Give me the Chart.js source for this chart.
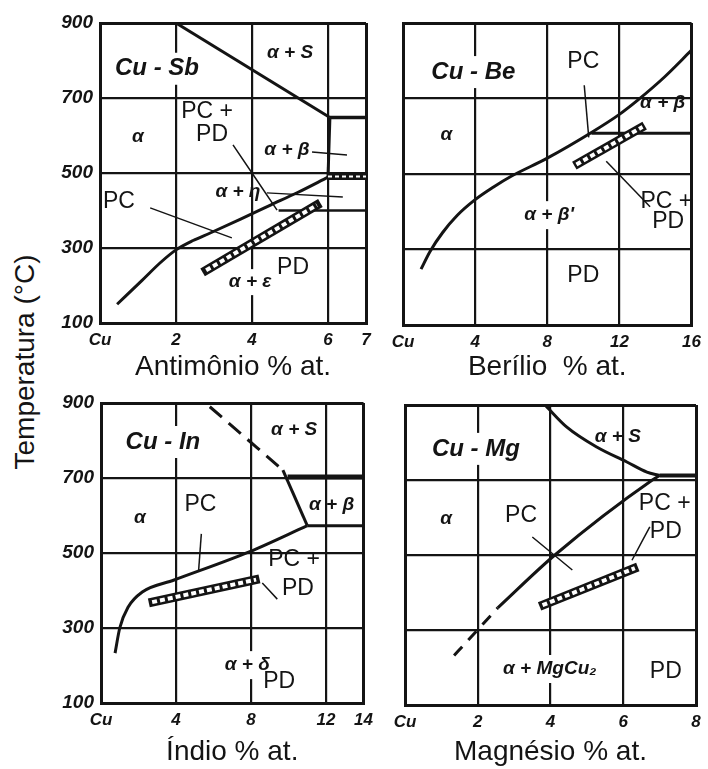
<!DOCTYPE html>
<html>
<head>
<meta charset="utf-8">
<script src="https://cdn.jsdelivr.net/npm/chart.js@4/dist/chart.umd.min.js"></script>
<style>
  html, body { margin: 0; padding: 0; background: #fff; }
  body { width: 708px; height: 769px; position: relative; overflow: hidden; }
  canvas { position: absolute; }
  #ytitle {
    position: absolute; left: 25px; top: 362px;
    transform: translate(-50%, -50%) rotate(-90deg);
    font: 28px "Liberation Sans", Arial, sans-serif; color: #141414; white-space: nowrap;
  }
</style>
</head>
<body>
<div id="ytitle">Temperatura (°C)</div>
<canvas id="cuSb" width="340" height="384" style="left:40px;top:0px"></canvas>
<canvas id="cuBe" width="328" height="384" style="left:380px;top:0px"></canvas>
<canvas id="cuIn" width="340" height="385" style="left:40px;top:384px"></canvas>
<canvas id="cuMg" width="328" height="385" style="left:380px;top:384px"></canvas>
<script>
// --- DATA (x = % at., y = °C) ---
const tempTicks = [100, 300, 500, 700, 900];

// Cu-Sb
const sbTicks = [0, 2, 4, 6, 7];
const sbLiquidus = [[2, 900], [6.05, 648]];
const sbBetaSide = [[6.05, 648], [6.0, 489]];
const sbBetaTop = [[6.05, 648], [7, 648]];
const sbBetaBase = [[6.0, 491], [7, 491]];
const sbSolvus = [[0.45, 150], [1.1, 213], [1.6, 262], [2.0, 295], [2.45, 320], [2.9, 340], [3.7, 377], [4.5, 415], [5.2, 448], [6.0, 489]];
const sbEta = [[4.7, 400], [7, 400]];
const sbBand = [[2.7, 235], [5.8, 420]];
const sbLeaders = [
  [[1.32, 407], [3.47, 327]],
  [[3.5, 575], [4.66, 401]],
  [[5.58, 556], [6.5, 548]],
  [[4.39, 447], [6.39, 436]]
];

// Cu-Be
const beTicks = [0, 4, 8, 12, 16];
const beSolvus = [[1.0, 248], [1.5, 295], [2.2, 345], [3, 390], [4, 432], [5, 465], [6, 494], [8, 542], [10.45, 610], [12, 658], [13, 695], [14.5, 757], [16, 828]];
const beEutectoid = [[10.45, 608], [16, 608]];
const beBand = [[9.5, 522], [13.4, 628]];
const beLeaders = [
  [[10.05, 735], [10.3, 597]],
  [[11.27, 534], [13.7, 413]]
];

// Cu-In
const inTicks = [0, 4, 8, 12, 14];
const inLiquidusDash = [[5.8, 890], [9.7, 721]];
const inBetaSide = [[9.7, 721], [11.0, 573]];
const inBetaTop = [[9.95, 703], [14, 703]];
const inBetaBase = [[11.0, 573], [14, 573]];
const inSolvus = [[0.75, 233], [1.0, 300], [1.45, 356], [2.2, 396], [3.9, 428], [7.9, 503], [11.0, 573]];
const inBand = [[2.55, 367], [8.45, 431]];
const inLeaders = [
  [[5.35, 551], [5.2, 450]],
  [[8.6, 420], [9.4, 377]]
];

// Cu-Mg
const mgTicks = [0, 2, 4, 6, 8];
const mgLiquidus = [[3.85, 900], [4.45, 841], [5.27, 788], [6.1, 748], [6.65, 721], [7.0, 712]];
const mgEutectic = [[7.0, 712], [8, 712]];
const mgSolvus = [[2.55, 359], [4.12, 500], [6.8, 700], [7.0, 712]];
const mgSolvusDash = [[1.35, 232], [2.55, 359]];
const mgBand = [[3.7, 363], [6.4, 468]];
const mgLeaders = [
  [[3.5, 548], [4.6, 460]],
  [[6.24, 486], [6.73, 575]]
];

// --- LABELS (texto, x, y, estilo, caixa branca) ---
const sbLabels = [
  { t: 'Cu - Sb', x: 1.5, y: 778, k: 'sys', box: 16 },
  { t: 'α + S', x: 5.0, y: 820, k: 'ph' },
  { t: 'α', x: 1.0, y: 596, k: 'ph' },
  { t: 'PC +', x: 2.82, y: 663, k: 'pc' },
  { t: 'PD', x: 2.95, y: 601, k: 'pc' },
  { t: 'α + β', x: 4.92, y: 561, k: 'ph' },
  { t: 'α + η', x: 3.63, y: 449, k: 'ph' },
  { t: 'PC', x: 0.5, y: 423, k: 'pc' },
  { t: 'α + ε', x: 3.95, y: 209, k: 'ph', box: 13 },
  { t: 'PD', x: 5.08, y: 247, k: 'pc' }
];
const beLabels = [
  { t: 'Cu - Be', x: 3.9, y: 770, k: 'sys', box: 16 },
  { t: 'PC', x: 10.0, y: 797, k: 'pc' },
  { t: 'α + β', x: 14.4, y: 688, k: 'ph' },
  { t: 'α', x: 2.4, y: 603, k: 'ph' },
  { t: "α + β'", x: 8.1, y: 391, k: 'ph', box: 14 },
  { t: 'PC +', x: 14.6, y: 426, k: 'pc' },
  { t: 'PD', x: 14.7, y: 373, k: 'pc' },
  { t: 'PD', x: 10.0, y: 232, k: 'pc' }
];
const inLabels = [
  { t: 'Cu - In', x: 3.3, y: 796, k: 'sys', box: 16 },
  { t: 'α + S', x: 10.3, y: 828, k: 'ph' },
  { t: 'α', x: 2.07, y: 593, k: 'ph' },
  { t: 'PC', x: 5.3, y: 628, k: 'pc' },
  { t: 'α + β', x: 12.3, y: 628, k: 'ph' },
  { t: 'PC +', x: 10.3, y: 481, k: 'pc' },
  { t: 'PD', x: 10.5, y: 406, k: 'pc' },
  { t: 'α + δ', x: 7.8, y: 201, k: 'ph', box: 14 },
  { t: 'PD', x: 9.5, y: 156, k: 'pc' }
];
const mgLabels = [
  { t: 'Cu - Mg', x: 1.95, y: 783, k: 'sys', box: 16 },
  { t: 'α + S', x: 5.85, y: 815, k: 'ph' },
  { t: 'α', x: 1.13, y: 596, k: 'ph' },
  { t: 'PC', x: 3.19, y: 604, k: 'pc' },
  { t: 'PC +', x: 7.14, y: 636, k: 'pc' },
  { t: 'PD', x: 7.17, y: 561, k: 'pc' },
  { t: 'α + MgCu₂', x: 3.98, y: 196, k: 'ph', box: 14 },
  { t: 'PD', x: 7.17, y: 188, k: 'pc' }
];

// --- ESTILOS ---
const INK = '#141414';
const FAMILY = '"Liberation Sans", Arial, sans-serif';
const labelFonts = {
  sys: 'italic bold 24px ' + FAMILY,
  ph: 'italic bold 19px ' + FAMILY,
  pc: '23px ' + FAMILY
};

function line(pts, w, dash) {
  return {
    data: pts.map(p => ({ x: p[0], y: p[1] })),
    showLine: true,
    borderColor: INK,
    borderWidth: w,
    borderDash: dash || [],
    pointRadius: 0,
    cubicInterpolationMode: 'monotone',
    fill: false
  };
}

// faixa hachurada (PC + PD): linha grossa preta com traco branco por cima
function band(pts) {
  const a = pts[0], b = pts[1];
  const at = t => [a[0] + (b[0] - a[0]) * t, a[1] + (b[1] - a[1]) * t];
  const inner = line([at(0.03), at(0.97)], 4, [5, 3]);
  inner.borderColor = '#fff';
  inner.order = -1;
  return [line(pts, 9), inner];
}

function hatchedEdge(pts) {
  const inner = line(pts, 2, [4, 3]);
  inner.borderColor = '#fff';
  inner.order = -1;
  return [line(pts, 7), inner];
}

const labelPlugin = {
  id: 'phaseLabels',
  beforeDatasetsDraw(chart, args, opts) {
    const ctx = chart.ctx;
    const xs = chart.scales.x, ys = chart.scales.y;
    ctx.save();
    ctx.textAlign = 'center';
    ctx.textBaseline = 'middle';
    opts.items.forEach(l => {
      ctx.font = labelFonts[l.k];
      const px = xs.getPixelForValue(l.x);
      const py = ys.getPixelForValue(l.y);
      if (l.box) {
        const w = ctx.measureText(l.t).width;
        ctx.fillStyle = '#fff';
        ctx.fillRect(px - w / 2 - 4, py - l.box, w + 8, l.box * 2);
      }
      ctx.fillStyle = INK;
      ctx.fillText(l.t, px, py);
    });
    ctx.restore();
  }
};

function makePanel(id, cfg) {
  const xMax = cfg.xTicks[cfg.xTicks.length - 1];
  const edgeWidth = (c, min, max) => (c.tick && (c.tick.value === min || c.tick.value === max)) ? 3 : 2.2;
  return new Chart(document.getElementById(id), {
    type: 'scatter',
    data: { datasets: cfg.datasets },
    options: {
      responsive: false,
      animation: false,
      events: [],
      layout: { padding: cfg.pad },
      plugins: {
        legend: { display: false },
        tooltip: { enabled: false },
        phaseLabels: { items: cfg.labels }
      },
      scales: {
        x: {
          type: 'linear', min: 0, max: xMax,
          afterBuildTicks: s => { s.ticks = cfg.xTicks.map(v => ({ value: v })); },
          afterFit: s => { s.height = cfg.xh; },
          grid: { color: INK, lineWidth: c => edgeWidth(c, 0, xMax), drawTicks: false },
          border: { color: INK, width: 3 },
          ticks: {
            padding: 7, color: INK,
            font: { family: FAMILY, size: 17, weight: 'bold', style: 'italic' },
            callback: v => v === 0 ? 'Cu' : v
          },
          title: {
            display: true, text: cfg.xTitle, color: INK, padding: 0,
            font: { family: FAMILY, size: 28 }
          }
        },
        y: {
          type: 'linear', min: 100, max: 900,
          afterBuildTicks: s => { s.ticks = tempTicks.map(v => ({ value: v })); },
          afterFit: s => { s.width = cfg.yw; },
          grid: { color: INK, lineWidth: c => edgeWidth(c, 100, 900), drawTicks: false },
          border: { color: INK, width: 3 },
          ticks: {
            display: cfg.showY, padding: 7, color: INK,
            font: { family: FAMILY, size: 19, weight: 'bold', style: 'italic' }
          }
        }
      }
    },
    plugins: [labelPlugin]
  });
}

makePanel('cuSb', {
  xTicks: sbTicks, xTitle: 'Antimônio % at.', showY: true,
  pad: { top: 23, right: 14, left: 0, bottom: 0 }, yw: 60, xh: 61,
  labels: sbLabels,
  datasets: [
    line(sbLiquidus, 3), line(sbBetaSide, 3), line(sbBetaTop, 3.5),
    ...hatchedEdge(sbBetaBase),
    line(sbSolvus, 3), line(sbEta, 2.5),
    ...band(sbBand),
    ...sbLeaders.map(l => line(l, 1.5))
  ]
});

makePanel('cuBe', {
  xTicks: beTicks, xTitle: 'Berílio  % at.', showY: false,
  pad: { top: 23, right: 11, left: 0, bottom: 0 }, yw: 23, xh: 59,
  labels: beLabels,
  datasets: [
    line(beSolvus, 3), line(beEutectoid, 3),
    ...band(beBand),
    ...beLeaders.map(l => line(l, 1.5))
  ]
});

makePanel('cuIn', {
  xTicks: inTicks, xTitle: 'Índio % at.', showY: true,
  pad: { top: 19, right: 16, left: 0, bottom: 0 }, yw: 61, xh: 66,
  labels: inLabels,
  datasets: [
    line(inLiquidusDash, 3, [16, 9]), line(inBetaSide, 3), line(inBetaTop, 5), line(inBetaBase, 3),
    line(inSolvus, 3),
    ...band(inBand),
    ...inLeaders.map(l => line(l, 1.5))
  ]
});

makePanel('cuMg', {
  xTicks: mgTicks, xTitle: 'Magnésio % at.', showY: false,
  pad: { top: 21, right: 12, left: 0, bottom: 0 }, yw: 25, xh: 64,
  labels: mgLabels,
  datasets: [
    line(mgLiquidus, 3), line(mgEutectic, 4),
    line(mgSolvus, 3), line(mgSolvusDash, 3, [12, 9]),
    ...band(mgBand),
    ...mgLeaders.map(l => line(l, 1.5))
  ]
});
</script>
</body>
</html>
